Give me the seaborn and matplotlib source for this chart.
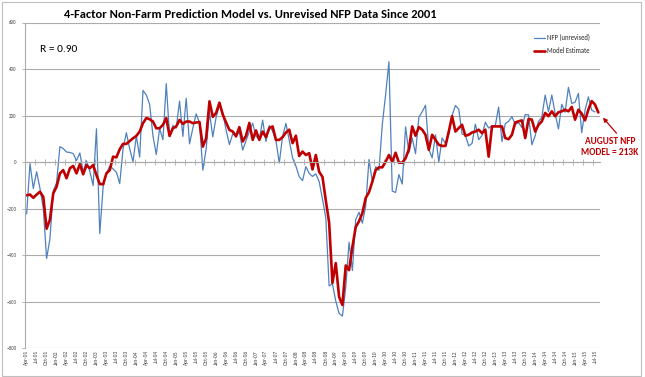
import matplotlib
matplotlib.use("Agg")
import matplotlib.pyplot as plt
import seaborn as sns
import pandas as pd
import numpy as np
from matplotlib import font_manager
from matplotlib.patches import Rectangle

# monatliche daten ab april 2001
start_month = "2001-04-01"

# NFP erstmeldung (tausend), apr-01 .. jul-15
nfp_unrevised = [
    -223, -7, -114, -42, -113, -199, -415, -331, -124,
    -89, 66, 58, 43, 41, 36, 6, 39, -43, 5, -40, -101,
    143, -308, -108, -48, -17, -30, -44, -93, 57, 126, 57, 1,
    112, 21, 308, 288, 248, 112, 32, 144, 96, 337, 112, 157,
    146, 262, 110, 274, 78, 146, 207, 169, -35, 56, 215, 108,
    193, 243, 211, 138, 75, 121, 113, 128, 51, 92, 132, 167,
    111, 97, 180, 88, 157, 132, 92, -4, 110, 166, 94, 18,
    -17, -63, -80, -20, -49, -62, -51, -84, -159, -240, -533, -524,
    -598, -651, -663, -539, -345, -467, -247, -216, -263, -190, 11, -85,
    -20, -36, 162, 290, 431, -125, -131, -54, -95, 151, 39, 103,
    36, 192, 216, 244, 54, 18, 117, 0, 103, 80, 120, 200,
    243, 227, 120, 115, 69, 80, 163, 96, 114, 171, 146, 155,
    157, 236, 88, 165, 175, 195, 162, 169, 148, 204, 203, 74,
    113, 175, 192, 288, 217, 288, 209, 142, 248, 214, 321, 252,
    257, 295, 126, 223, 280, 223, 215,
]

# modellschaetzung, apr-01 .. aug-15
model_estimate = [
    -143, -140, -154, -140, -128, -150, -287, -248, -135,
    -107, -49, -35, -70, -27, -17, -49, -9, -53, -14, -27, -13,
    -56, -95, -96, -49, -35, 23, 20, 55, 78, 78, 90, 102,
    112, 131, 167, 189, 184, 174, 145, 145, 160, 189, 112, 145,
    153, 181, 164, 174, 174, 167, 170, 172, 66, 102, 261, 194,
    211, 255, 204, 170, 138, 131, 110, 150, 88, 113, 168, 95,
    136, 95, 131, 107, 146, 153, 95, 95, 107, 127, 139, 81,
    113, 26, 45, 30, 38, -32, 30, -42, -64, -165, -260, -520,
    -435, -580, -615, -445, -465, -365, -280, -255, -220, -155, -130, -85,
    -35, -23, -23, 1, 30, 1, 40, -3, -3, 16, 55, 153,
    113, 150, 139, 117, 52, 117, 95, 74, 69, 69, 131, 197,
    131, 146, 160, 113, 117, 127, 131, 139, 124, 139, 23, 153,
    153, 153, 153, 103, 98, 117, 170, 175, 179, 103, 185, 182,
    131, 160, 175, 211, 197, 218, 197, 214, 218, 225, 218, 237,
    182, 225, 208, 179, 225, 262, 247, 213,
]

r_text = "R = 0.90"
note_text = "AUGUST NFP\nMODEL = 213K"
title = "4-Factor Non-Farm Prediction Model vs. Unrevised NFP Data Since 2001"

dates = pd.date_range(start_month, periods=len(model_estimate), freq="MS")
df = pd.DataFrame({
    "idx": np.arange(len(dates)),
    "Model Estimate": model_estimate,
    "NFP (unrevised)": nfp_unrevised + [np.nan] * (len(dates) - len(nfp_unrevised)),
})
tick_labels = [d.strftime("%b-%y") for d in dates]

sns.set_style("white")
# schmale schrift wie excel calibri, falls vorhanden
fonts = {f.name for f in font_manager.fontManager.ttflist}
fam = "Liberation Sans"
for cand in ["Carlito", "Liberation Sans Narrow"]:
    if cand in fonts:
        fam = cand
        break
plt.rcParams["font.family"] = [fam, "DejaVu Sans"]

fig = plt.figure(figsize=(6.45, 3.77), dpi=100)
ax = fig.add_axes([25 / 645, 1 - 348 / 377, 575 / 645, (348 - 22.5) / 377])

sns.lineplot(data=df, x="idx", y="NFP (unrevised)", color="#4F81BD", lw=0.9,
             label="NFP (unrevised)", ax=ax)
sns.lineplot(data=df, x="idx", y="Model Estimate", color="#C00000", lw=1.9,
             label="Model Estimate", ax=ax)

grey = "#ABABAB"
ax.set_xlim(-0.5, len(dates) - 0.5)
ax.set_ylim(-800, 600)
ax.set_yticks(np.arange(-800, 601, 200))
ax.yaxis.grid(True, color=grey, lw=0.8)
ax.set_xlabel("")
ax.set_ylabel("")
ax.tick_params(axis="y", labelsize=3.6, colors="#404040", length=2.5, width=0.6,
               color=grey, pad=3.5, left=True)

# x-achse bei null mit ticks zwischen den kategorien
ax.spines["bottom"].set_position(("data", 0))
ax.spines["bottom"].set_color(grey)
ax.spines["bottom"].set_linewidth(0.8)
ax.spines["left"].set_color(grey)
ax.spines["left"].set_linewidth(0.8)
ax.spines["top"].set_visible(False)
ax.spines["right"].set_visible(False)
ax.set_xticks(np.arange(-0.5, len(dates) - 1, 3))
ax.tick_params(axis="x", labelbottom=False, direction="inout", length=4,
               width=0.6, color=grey, bottom=True)

# beschriftung unten
sec = ax.secondary_xaxis("bottom")
sec.set_xticks(df["idx"][::3], [tick_labels[i] for i in range(0, len(dates) - 1, 3)])
sec.tick_params(length=0, labelsize=4, labelrotation=90, pad=1.5, colors="#404040")
sec.spines["bottom"].set_visible(False)

leg = ax.legend(loc="upper left", bbox_to_anchor=(528 / 645, 1 - 28 / 377),
                bbox_transform=fig.transFigure, frameon=False, fontsize=4.8,
                handlelength=1.7, handletextpad=0.2, labelspacing=0.9)

t_title = fig.text(250 / 645, 1 - 14 / 377, title, ha="center", va="center",
                   fontsize=9, fontweight="bold", color="black")
t_r = fig.text(40 / 645, 1 - 49 / 377, r_text, ha="left", va="center",
               fontsize=8, color="black")
ann = ax.annotate(note_text, xy=(df["idx"].iloc[-1], model_estimate[-1]),
                  xytext=(610, 377 - 147), textcoords="figure pixels",
                  ha="center", va="center", fontsize=6.5, fontweight="bold",
                  color="#C00000", linespacing=1.15,
                  arrowprops=dict(arrowstyle="-|>", color="#C00000", lw=0.9,
                                  shrinkA=1, shrinkB=5, mutation_scale=6,
                                  relpos=(0.68, 1.0)))

# schriftgroessen an referenzbreite anpassen
fig.canvas.draw()
renderer = fig.canvas.get_renderer()
for txt, width in [(t_title, 372), (t_r, 37), (ann, 57)]:
    w = txt.get_window_extent(renderer).width
    txt.set_fontsize(txt.get_fontsize() * width / w)

# rahmen um das diagramm
fig.patches.append(Rectangle((2 / 645, 1 / 377), 639 / 645, 374 / 377,
                             transform=fig.transFigure, fill=False,
                             ec="#BFBFBF", lw=0.8))

fig.savefig("out.png", dpi=100)
